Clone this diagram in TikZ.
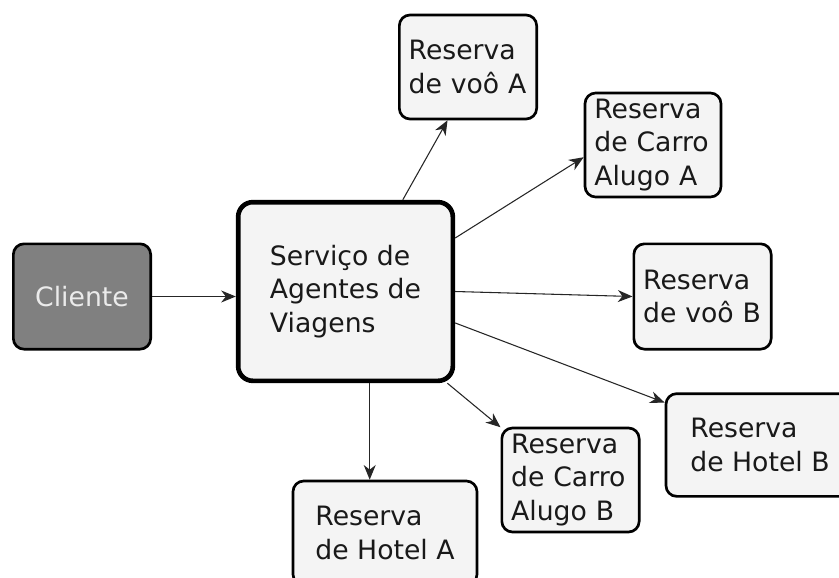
\documentclass[tikz,border=0pt]{standalone}
\usepackage{fontspec}
\setmainfont{DejaVu Sans}
\usepackage{xcolor}
\usepackage{tikz}
\usetikzlibrary{arrows.meta, positioning}

\definecolor{boxfill}{HTML}{F4F4F4}
\definecolor{clientfill}{HTML}{808080}

\begin{document}
\begin{tikzpicture}[
    x=0.75pt, y=-0.75pt,
    service/.style={rectangle, rounded corners=11pt, align=left, draw=black, line width=3.5pt, fill=boxfill, text=black!90, font=\fontsize{20}{25}\selectfont},
    client/.style={rectangle, rounded corners=8pt, align=left, draw=black, line width=2pt, fill=clientfill, text=white!92!black, font=\fontsize{20}{25}\selectfont},
    booking/.style={rectangle, rounded corners=8pt, align=left, inner xsep=7pt, draw=black, line width=2pt, fill=boxfill, text=black!90, font=\fontsize{20}{25}\selectfont},
    arrow/.style={line width=0.8pt, draw=black!85, -{Stealth[length=11pt, width=9pt, inset=3.5pt]}}
]
    \useasboundingbox (0,0) rectangle (839,578);

    \node (cliente) [client, minimum width=103pt, minimum height=79pt] at (82,296.5) {Cliente};
    \node (agentes) [service, minimum width=161pt, minimum height=134pt] at (345.5,291.5) {Serviço de\\Agentes de\\Viagens};
    \node (vooA) [booking, text width=89pt, minimum height=78pt] at (468,67) {Reserva\\de voô A};
    \node (carroA) [booking, text width=88pt, minimum height=78pt] at (653,145) {Reserva\\de Carro\\Alugo A};
    \node (vooB) [booking, text width=89pt, minimum height=79pt] at (702.5,296.5) {Reserva\\de voô B};
    \node (hotelB) [booking, minimum width=141pt, minimum height=77pt] at (760,445) {Reserva\\de Hotel B};
    \node (carroB) [booking, text width=89pt, minimum height=78pt] at (570.5,480) {Reserva\\de Carro\\Alugo B};
    \node (hotelA) [booking, minimum width=138pt, minimum height=78pt] at (385,533) {Reserva\\de Hotel A};

    \draw [arrow] (cliente.east) -- (agentes.west |- cliente.east);
    \draw [arrow] (agentes.58) -- (vooA.249);
    \draw [arrow] (agentes.26) -- (carroA.190);
    \draw [arrow] (agentes.east) -- (vooB.west);
    \draw [arrow] (agentes.-16) -- (hotelB.156);
    \draw [arrow] (agentes.-42) -- (carroB.143);
    \draw [arrow] (agentes.south -| hotelA.106) -- (hotelA.106);
\end{tikzpicture}
\end{document}
